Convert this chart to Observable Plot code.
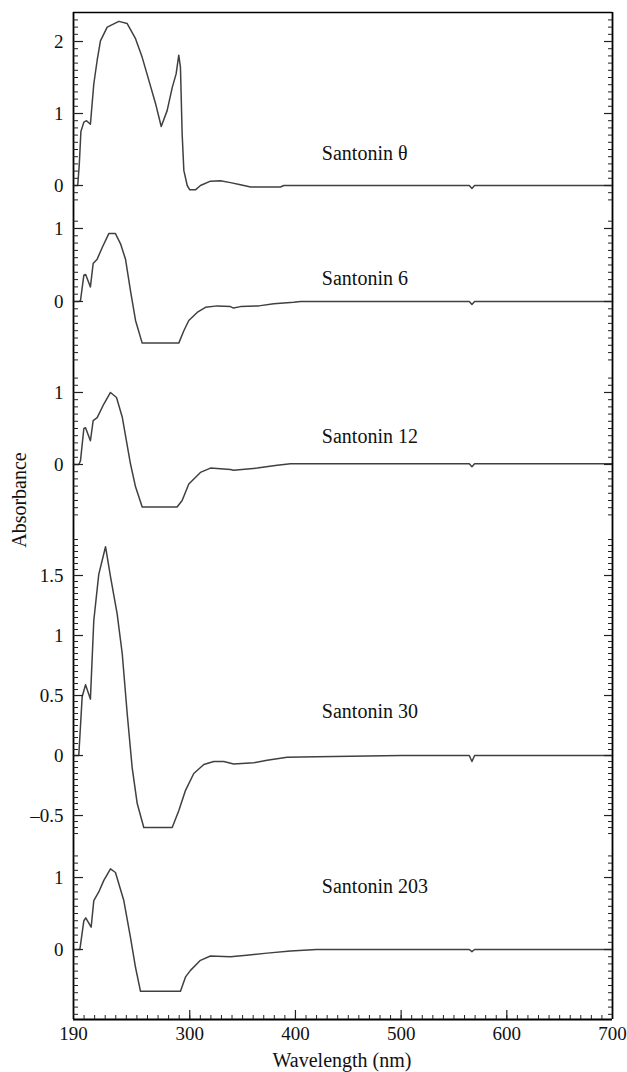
<!DOCTYPE html>
<html><head><meta charset="utf-8">
<script src="https://cdn.jsdelivr.net/npm/d3@7"></script>
<script src="https://cdn.jsdelivr.net/npm/@observablehq/plot@0.6"></script>
<style>
body{margin:0;background:#fff;}
#chart{position:relative;width:627px;height:1072px;font-family:"Liberation Serif","Times New Roman",serif;color:#111;}
.panel{position:absolute;left:0;}
#ylab{position:absolute;left:18.5px;top:500px;transform:translate(-50%,-50%) rotate(-90deg);font-size:20px;line-height:20px;white-space:nowrap;}
#xlab{position:absolute;left:342px;top:1050px;transform:translateX(-50%);font-size:20px;line-height:20px;white-space:nowrap;}
</style></head><body>
<div id="chart"><div id="ylab">Absorbance</div><div id="xlab">Wavelength (nm)</div></div>
<script>
// ---- data (wavelength nm, absorbance) ----
const nmTheta  = [190,194,195.5,197,199.8,202.3,206,209.2,212.4,215.5,221.9,232.9,240.8,248.7,255,261.3,267.6,273,278.6,283.4,287.1,289.6,291.2,292.8,294.4,297.6,300,305.4,310.1,319.6,329,338.5,348,357.5,385.8,389,400,423.7,500,564.5,567,569.5,640,700];
const absTheta = [0,0,0.3,0.75,0.88,0.9,0.85,1.41,1.74,2.01,2.2,2.28,2.25,2.04,1.78,1.46,1.14,0.82,1.04,1.36,1.55,1.81,1.64,0.72,0.21,0,-0.06,-0.06,0,0.06,0.065,0.04,0.01,-0.02,-0.02,0,0,0,0,0,-0.04,0,0,0];

const nm6  = [190,195,196.6,199.8,201.5,206,208.6,212.4,217.2,223.4,229.7,234.5,239.2,243.9,248.7,255,289.6,294.4,299.1,307,314.9,326,338.5,341.4,348,365.3,379.5,398.4,404.8,500,564.5,567,569.5,640,700];
const abs6 = [0,0,0.01,0.36,0.37,0.2,0.52,0.58,0.74,0.93,0.93,0.79,0.58,0.15,-0.26,-0.57,-0.57,-0.4,-0.26,-0.15,-0.08,-0.06,-0.07,-0.09,-0.07,-0.06,-0.03,-0.01,0,0,0,-0.04,0,0,0];

const nm12  = [190,195,196.6,199.8,201.4,206,208.6,212.4,218.7,225,230.7,236.1,243.9,248.7,255,288,292.8,299.1,310.1,319.6,338.5,341.4,363.8,382.7,395.3,500,564.5,567,569.5,640,700];
const abs12 = [0,0,0.05,0.5,0.51,0.33,0.61,0.65,0.84,1.0,0.93,0.66,0.01,-0.31,-0.59,-0.59,-0.5,-0.27,-0.11,-0.05,-0.07,-0.08,-0.05,-0.01,0.01,0.01,0.01,-0.03,0.01,0.01,0.01];

const nm30  = [190,195,198.2,201.4,206,209.2,213.9,220.3,225,231.3,236.1,240.8,245.5,250.3,256.5,283.4,289.6,296,303.8,313.3,322.7,332.2,341.6,360.6,373.2,392.1,420,500,564.5,567,569.5,640,700];
const abs30 = [0,0,0.49,0.59,0.47,1.125,1.51,1.74,1.49,1.18,0.85,0.35,-0.1,-0.4,-0.6,-0.6,-0.46,-0.29,-0.15,-0.075,-0.05,-0.05,-0.07,-0.06,-0.04,-0.015,-0.01,0,0,-0.05,0,0,0];

const nm203  = [190,196,199.8,201.6,206.7,209.2,213.9,218.7,225,229.7,237.6,243.9,248.7,253.4,291.2,296,300.7,310.1,319.6,338.5,353.8,373.2,395.3,420,500,564.5,567,569.5,640,700];
const abs203 = [0,0,0.4,0.44,0.31,0.68,0.8,0.96,1.12,1.07,0.68,0.17,-0.25,-0.58,-0.58,-0.38,-0.29,-0.15,-0.09,-0.1,-0.08,-0.05,-0.02,0,0,0,-0.03,0,0,0];

const seriesNames = ["Santonin θ","Santonin 6","Santonin 12","Santonin 30","Santonin 203"];
const xTicks = [190,300,400,500,600,700];
const majorY = [[0,1,2],[0,1],[0,1],[-0.5,0,0.5,1,1.5],[0,1]];

// ---- layout ----
const FONT = '"Liberation Serif","Times New Roman",serif';
const W = 627, ML = 73, MR = 15, FW = W - ML - MR;
const fmt = d => (d < 0 ? "\u2013" + Math.abs(d) : String(d));
const panels = [
  {nm:nmTheta, abs:absTheta, top:10,  height:202, mt:2, mb:0,  domain:[-0.375,2.403], minor:d3.range(-2,24).map(i=>i/10),  labelY:0.35},
  {nm:nm6,     abs:abs6,     top:212, height:155, mt:0, mb:0,  domain:[-0.904,1.219], minor:d3.range(-8,12).map(i=>i/10),  labelY:0.22},
  {nm:nm12,    abs:abs12,    top:367, height:160, mt:0, mb:0,  domain:[-0.875,1.347], minor:d3.range(-7,13).map(i=>i/10),  labelY:0.3},
  {nm:nm30,    abs:abs30,    top:527, height:319, mt:0, mb:0,  domain:[-0.758,1.9],   minor:d3.range(-13,37).map(i=>i/20), labelY:0.31},
  {nm:nm203,   abs:abs203,   top:846, height:226, mt:0, mb:53, domain:[-0.972,1.431], minor:d3.range(-9,14).map(i=>i/10),  labelY:0.78}
];

const chart = document.getElementById("chart");
panels.forEach((p, i) => {
  const data = p.nm.map((x, j) => ({x, y: p.abs[j]}));
  const last = i === panels.length - 1;
  const frameH = p.height - p.mt - p.mb;
  const marks = [
    Plot.line(data, {x:"x", y:"y", stroke:"#404040", strokeWidth:1.5}),
    Plot.ruleX([190, 700], {stroke:"#000", strokeWidth:1.8}),
    Plot.tickY(p.minor, {y:d=>d, insetRight:FW-5, stroke:"#222", strokeWidth:1}),
    Plot.tickY(majorY[i], {y:d=>d, insetRight:FW-10, stroke:"#222", strokeWidth:1.2}),
    Plot.tickY(p.minor, {y:d=>d, insetLeft:FW-4, stroke:"#222", strokeWidth:1}),
    Plot.tickY(majorY[i], {y:d=>d, insetLeft:FW-8, stroke:"#222", strokeWidth:1.2}),
    Plot.axisY({ticks:majorY[i], tickSize:0, tickPadding:10, tickFormat:fmt, fontSize:19, fontFamily:FONT, fill:"#111"}),
    Plot.text([seriesNames[i]], {x:()=>425, y:()=>p.labelY, text:d=>d, textAnchor:"start", lineAnchor:"bottom", fontSize:20, fontFamily:FONT, fill:"#111"})
  ];
  if (i === 0) marks.push(Plot.ruleY([p.domain[1]], {stroke:"#000", strokeWidth:1.3}));
  if (last) {
    marks.push(Plot.ruleY([p.domain[0]], {stroke:"#000", strokeWidth:1.8}));
    marks.push(Plot.tickX(d3.range(20,70).map(k=>k*10), {x:d=>d, insetTop:frameH-4, stroke:"#222", strokeWidth:1}));
    marks.push(Plot.tickX(xTicks.slice(1,-1), {x:d=>d, insetTop:frameH-9, stroke:"#222", strokeWidth:1.2}));
    marks.push(Plot.axisX({ticks:xTicks, tickSize:0, tickPadding:7, fontSize:19, fontFamily:FONT, fill:"#111", label:null}));
  } else {
    marks.push(Plot.axisX({ticks:[], label:null}));
  }
  const svg = Plot.plot({
    width: W, height: p.height,
    marginLeft: ML, marginRight: MR, marginTop: p.mt, marginBottom: p.mb,
    x: {domain: [190, 700], label: null},
    y: {domain: p.domain, label: null},
    style: {fontFamily: FONT, fontSize:"19px", background:"transparent", overflow:"visible"},
    marks
  });
  svg.classList.add("panel");
  svg.style.top = p.top + "px";
  chart.appendChild(svg);
});
</script>
</body></html>
